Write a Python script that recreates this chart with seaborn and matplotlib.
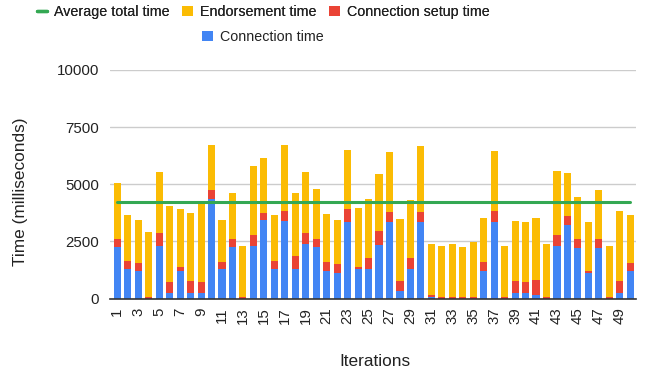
import numpy as np
import pandas as pd
import matplotlib
matplotlib.use("Agg")
import matplotlib.pyplot as plt
import seaborn as sns
from matplotlib.lines import Line2D
from matplotlib.patches import Patch

iterations = [str(i) for i in range(1, 51)]
connection_time = [2260, 1275, 1188, 0, 2318, 232, 1217, 261, 232, 4347,
                   1275, 2260, 0, 2318, 3449, 1275, 3391, 1304, 2405, 2260,
                   1217, 1130, 3362, 1275, 1304, 2347, 3362, 319, 1304, 3362,
                   72, 0, 0, 0, 0, 1217, 3362, 0, 261, 261,
                   145, 0, 2318, 3217, 2231, 1101, 2231, 0, 261, 1188]
setup_time = [363, 377, 377, 72, 551, 507, 174, 521, 507, 391,
              333, 363, 87, 464, 289, 377, 449, 551, 464, 363,
              391, 391, 536, 116, 464, 623, 434, 463, 464, 434,
              73, 72, 72, 72, 72, 391, 478, 72, 521, 478,
              681, 72, 464, 377, 392, 116, 392, 72, 521, 377]
endorsement_time = [2420, 1985, 1884, 2826, 2652, 3289, 2536, 2956, 3434, 2000,
                    1841, 1985, 2231, 3000, 2420, 1985, 2898, 2753, 2652, 2188,
                    2072, 1928, 2608, 2579, 2594, 2464, 2594, 2681, 2550, 2884,
                    2231, 2246, 2304, 2203, 2391, 1928, 2608, 2246, 2609, 2594,
                    2710, 2304, 2797, 1883, 1840, 2116, 2130, 2246, 3043, 2072]
average_total_time = 4220

BLUE = "#4285F4"
RED = "#EA4335"
YELLOW = "#FBBC04"
GREEN = "#34A853"
TEXT = "#222222"

df = pd.DataFrame({
    "Iteration": iterations,
    "conn": connection_time,
    "setup": setup_time,
    "endorse": endorsement_time,
})
df["level_setup"] = df["conn"] + df["setup"]
df["level_total"] = df["level_setup"] + df["endorse"]

sns.set_theme(style="white")
plt.rcParams["font.family"] = ["Liberation Sans", "DejaVu Sans"]

fig = plt.figure(figsize=(6.46, 3.78), dpi=100)
ax = fig.add_axes([110 / 646, 1 - 298.5 / 378, (636 - 110) / 646, (298.5 - 70) / 378])

bw = 0.68
sns.barplot(data=df, x="Iteration", y="level_total", color=YELLOW, saturation=1,
            width=bw, ax=ax, linewidth=0, zorder=3)
sns.barplot(data=df, x="Iteration", y="level_setup", color=RED, saturation=1,
            width=bw, ax=ax, linewidth=0, zorder=4)
sns.barplot(data=df, x="Iteration", y="conn", color=BLUE, saturation=1,
            width=bw, ax=ax, linewidth=0, zorder=5)

ax.plot(range(len(iterations)), [average_total_time] * len(iterations),
        color=GREEN, lw=2.2, zorder=6)

ax.set_ylim(0, 10000)
ax.set_xlim(-0.7, len(iterations) - 0.45)
ax.set_yticks([0, 2500, 5000, 7500, 10000])
ax.set_yticklabels(["0", "2500", "5000", "7500", "10000"])
ax.yaxis.grid(True, color="#cccccc", lw=1, zorder=0)
ax.set_axisbelow(True)
for s in ["top", "right", "left"]:
    ax.spines[s].set_visible(False)
ax.spines["bottom"].set_color("#333333")
ax.spines["bottom"].set_linewidth(1.2)
ax.spines["bottom"].set_zorder(7)

pos = list(range(0, len(iterations), 2))
ax.set_xticks(pos)
ax.set_xticklabels([iterations[i] for i in pos], rotation=90)
ax.tick_params(axis="x", length=0, pad=6.5, labelsize=10.8, colors=TEXT)
ax.tick_params(axis="y", length=0, pad=8, labelsize=10.8, colors=TEXT)

ax.set_xlabel("")
ax.set_ylabel("")
fig.text(375 / 646, 1 - 362 / 378, "Iterations", ha="center", va="center",
         fontsize=12.4, color=TEXT)
fig.text(21 / 646, 1 - 192 / 378, "Time (milliseconds)", ha="center", va="center",
         rotation=90, fontsize=12.4, color=TEXT)

h1 = [Line2D([0], [0], color=GREEN, lw=2.4),
      Patch(facecolor=YELLOW, edgecolor="none"),
      Patch(facecolor=RED, edgecolor="none")]
l1 = ["Average total time", "Endorsement time", "Connection setup time"]
leg_kw = dict(frameon=False, fontsize=10.3, handlelength=0.72, handleheight=0.72,
              handletextpad=0.5, columnspacing=0.9, borderpad=0, labelcolor=TEXT)
leg1 = fig.legend(h1, l1, loc="center", bbox_to_anchor=(263 / 646, 1 - 12 / 378),
                  ncol=3, **leg_kw)
leg2 = fig.legend([Patch(facecolor=BLUE, edgecolor="none")], ["Connection time"],
                  loc="center", bbox_to_anchor=(263 / 646, 1 - 37 / 378), **leg_kw)
fig.add_artist(leg1)

fig.savefig("out.png", dpi=100)
